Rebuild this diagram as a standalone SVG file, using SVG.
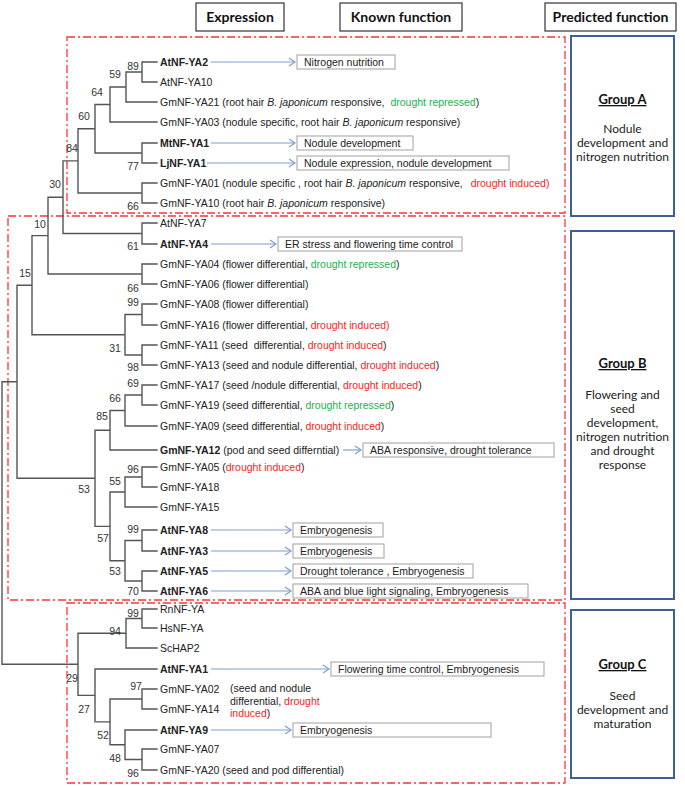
<svg xmlns="http://www.w3.org/2000/svg" width="685" height="786" viewBox="0 0 685 786">
<style>
.t{font-family:"Liberation Sans",Arial,sans-serif;font-size:10.5px;fill:#222}
.b{font-weight:bold}
.it{font-style:italic}
.red{fill:#ff1a1a}
.grn{fill:#22b14c}
.bs{font-family:"Liberation Sans",Arial,sans-serif;font-size:10.5px;fill:#333;text-anchor:middle}
.hdr{fill:#fff;stroke:#333;stroke-width:1.2}
.ht{font-family:Lato,"Liberation Sans",sans-serif;font-size:14px;font-weight:bold;fill:#111;text-anchor:middle}
.grp{fill:#fff;stroke:#3c5f96;stroke-width:2}
.gt{font-family:Lato,"Liberation Sans",sans-serif;font-size:12px;fill:#222;text-anchor:middle}
.gh{font-family:Lato,"Liberation Sans",sans-serif;font-size:13px;font-weight:bold;fill:#111;text-anchor:middle;text-decoration:underline}
.clade{fill:none;stroke:#ff3333;stroke-width:1.3;stroke-dasharray:8,3,2,3}
.fb{fill:#fff;stroke:#a0a0a0;stroke-width:1}
.tree{fill:none;stroke:#555;stroke-width:1.4;stroke-linecap:square}
.arr{fill:none;stroke:#7aa0d4;stroke-width:1.2;marker-end:url(#ah)}
</style>
<defs>
<marker id="ah" markerWidth="9" markerHeight="10" refX="7" refY="5" orient="auto" markerUnits="userSpaceOnUse">
<path d="M1,1 L7,5 L1,9" fill="none" stroke="#7aa0d4" stroke-width="1.2"/>
</marker>
</defs>
<rect width="685" height="786" fill="#fff"/>

<!-- headers -->
<g id="hdr-expression"><rect class="hdr" x="196" y="3" width="88" height="28"/><text class="ht" x="240" y="22">Expression</text></g>
<g id="hdr-known"><rect class="hdr" x="340" y="3" width="122" height="28"/><text class="ht" x="401" y="22">Known function</text></g>
<g id="hdr-predicted"><rect class="hdr" x="545" y="3" width="131" height="28"/><text class="ht" x="610.5" y="22">Predicted function</text></g>

<!-- clade boxes -->
<g id="clade-A"><rect class="clade" x="67" y="37" width="498" height="176"/></g>
<g id="clade-B"><rect class="clade" x="8" y="216" width="557" height="384"/></g>
<g id="clade-C"><rect class="clade" x="67" y="603" width="498" height="180"/></g>

<!-- group boxes -->
<g id="group-A"><rect class="grp" x="571" y="36" width="103" height="180"/>
<text class="gh" x="622.5" y="104">Group A</text>
<text class="gt" x="622.5" y="133">Nodule</text>
<text class="gt" x="622.5" y="147">development and</text>
<text class="gt" x="622.5" y="161">nitrogen nutrition</text></g>
<g id="group-B"><rect class="grp" x="571" y="231" width="103" height="368"/>
<text class="gh" x="622.5" y="368">Group  B</text>
<text class="gt" x="622.5" y="399">Flowering and</text>
<text class="gt" x="622.5" y="413">seed</text>
<text class="gt" x="622.5" y="427">development,</text>
<text class="gt" x="622.5" y="441">nitrogen nutrition</text>
<text class="gt" x="622.5" y="455">and drought</text>
<text class="gt" x="622.5" y="469">response</text></g>
<g id="group-C"><rect class="grp" x="571" y="610" width="103" height="168"/>
<text class="gh" x="622.5" y="669">Group C</text>
<text class="gt" x="622.5" y="700">Seed</text>
<text class="gt" x="622.5" y="714">development and</text>
<text class="gt" x="622.5" y="728">maturation</text></g>

<!-- connectors -->
<g id="connectors">
<path class="tree" d="M142,62V82 M142,62H157 M142,82H157
M126,72V102 M126,72H142 M126,102H157
M110,87V122 M110,87H126 M110,122H157
M142,143V163 M142,143H157 M142,163H157
M95,104.5V153 M95,104.5H110 M95,153H142
M142,183V203 M142,183H157 M142,203H157
M78,128.75V193 M78,128.75H95 M78,193H142
M142,223V244 M142,223H157 M142,244H157
M63,160.9V233.5 M63,160.9H78 M63,233.5H142
M142,264V284 M142,264H157 M142,284H157
M48,197.2V274 M48,197.2H63 M48,274H142
M142,304V325 M142,304H157 M142,325H157
M142,345V365 M142,345H157 M142,365H157
M125,314.5V355 M125,314.5H142 M125,355H142
M32,235.6V334.75 M32,235.6H48 M32,334.75H125
M142,385V405 M142,385H157 M142,405H157
M125,395V426 M125,395H142 M125,426H157
M110,410.5V450 M110,410.5H125 M110,450H157
M142,467V487 M142,467H157 M142,487H157
M125,477V507 M125,477H142 M125,507H157
M142,530V551 M142,530H157 M142,551H157
M142,571V591 M142,571H157 M142,591H157
M125,540.5V581 M125,540.5H142 M125,581H142
M110,492V560.75 M110,492H125 M110,560.75H125
M95,430.25V526.4 M95,430.25H110 M95,526.4H110
M17,285.2V478.3 M17,285.2H32 M17,478.3H95
M142,609V628 M142,609H157 M142,628H157
M126,618.5V648 M126,618.5H142 M126,648H157
M142,689V709 M142,689H157 M142,709H157
M142,749V770 M142,749H157 M142,770H157
M125,730V759.5 M125,730H157 M125,759.5H142
M110,699V744.75 M110,699H142 M110,744.75H125
M95,669V721.9 M95,669H157 M95,721.9H110
M78,633.25V695.4 M78,633.25H126 M78,695.4H95
M2,381.8V664.3 M2,381.8H17 M2,664.3H78"/>
<path class="arr" d="M211,62H295"/>
<path class="arr" d="M211,143H295"/>
<path class="arr" d="M207,163H295"/>
<path class="arr" d="M211,244H276"/>
<path class="arr" d="M343,450H361"/>
<path class="arr" d="M211,530H291"/>
<path class="arr" d="M211,551H291"/>
<path class="arr" d="M211,571H291"/>
<path class="arr" d="M211,591H291"/>
<path class="arr" d="M211,669H329"/>
<path class="arr" d="M211,730H291"/>
</g>

<!-- bootstrap values -->
<g id="bootstrap">
<text class="bs" x="133" y="70">89</text>
<text class="bs" x="115" y="78">59</text>
<text class="bs" x="97" y="96">64</text>
<text class="bs" x="84" y="120">60</text>
<text class="bs" x="72" y="152">84</text>
<text class="bs" x="133" y="170">77</text>
<text class="bs" x="133" y="210">66</text>
<text class="bs" x="55" y="188">30</text>
<text class="bs" x="40" y="228">10</text>
<text class="bs" x="133" y="250">61</text>
<text class="bs" x="25" y="277">15</text>
<text class="bs" x="133" y="292">66</text>
<text class="bs" x="133" y="306">99</text>
<text class="bs" x="115" y="352">31</text>
<text class="bs" x="133" y="371">98</text>
<text class="bs" x="133" y="387">69</text>
<text class="bs" x="115" y="402">66</text>
<text class="bs" x="102" y="420">85</text>
<text class="bs" x="133" y="473">96</text>
<text class="bs" x="115" y="485">55</text>
<text class="bs" x="84" y="493">53</text>
<text class="bs" x="133" y="533">99</text>
<text class="bs" x="103" y="542">57</text>
<text class="bs" x="115" y="575">53</text>
<text class="bs" x="133" y="595">70</text>
<text class="bs" x="133" y="617">99</text>
<text class="bs" x="115" y="635">94</text>
<text class="bs" x="72" y="682">29</text>
<text class="bs" x="136" y="690">97</text>
<text class="bs" x="84" y="713">27</text>
<text class="bs" x="103" y="739">52</text>
<text class="bs" x="115" y="762">48</text>
<text class="bs" x="133" y="777">96</text>
</g>

<!-- leaves -->
<g id="AtNF-YA2"><text class="t b" x="160" y="66">AtNF-YA2</text></g>
<g id="AtNF-YA10"><text class="t" x="160" y="86">AtNF-YA10</text></g>
<g id="GmNF-YA21"><text class="t" x="160" y="106">GmNF-YA21 (root hair <tspan class="it">B. japonicum</tspan> responsive, <tspan class="grn" dx="3">drought repressed</tspan>)</text></g>
<g id="GmNF-YA03"><text class="t" x="160" y="126">GmNF-YA03 (nodule specific, root hair <tspan class="it">B. japonicum</tspan> responsive)</text></g>
<g id="MtNF-YA1"><text class="t b" x="160" y="147">MtNF-YA1</text></g>
<g id="LjNF-YA1"><text class="t b" x="160" y="167">LjNF-YA1</text></g>
<g id="GmNF-YA01"><text class="t" x="160" y="187">GmNF-YA01 (nodule specific , root hair <tspan class="it">B. japonicum</tspan> responsive, <tspan class="red" dx="5">drought induced)</tspan></text></g>
<g id="GmNF-YA10"><text class="t" x="160" y="207">GmNF-YA10 (root hair <tspan class="it">B. japonicum</tspan> responsive)</text></g>
<g id="AtNF-YA7"><text class="t" x="160" y="227">AtNF-YA7</text></g>
<g id="AtNF-YA4"><text class="t b" x="160" y="248">AtNF-YA4</text></g>
<g id="GmNF-YA04"><text class="t" x="160" y="268">GmNF-YA04 (flower differential, <tspan class="grn">drought repressed</tspan>)</text></g>
<g id="GmNF-YA06"><text class="t" x="160" y="288">GmNF-YA06 (flower differential)</text></g>
<g id="GmNF-YA08"><text class="t" x="160" y="308">GmNF-YA08 (flower differential)</text></g>
<g id="GmNF-YA16"><text class="t" x="160" y="329">GmNF-YA16 (flower differential, <tspan class="red">drought induced)</tspan></text></g>
<g id="GmNF-YA11"><text class="t" x="160" y="349">GmNF-YA11 (seed <tspan dx="3">differential,</tspan> <tspan class="red">drought induced</tspan>)</text></g>
<g id="GmNF-YA13"><text class="t" x="160" y="369">GmNF-YA13 (seed and nodule differential, <tspan class="red">drought induced</tspan>)</text></g>
<g id="GmNF-YA17"><text class="t" x="160" y="389">GmNF-YA17 (seed /nodule differential, <tspan class="red">drought induced</tspan>)</text></g>
<g id="GmNF-YA19"><text class="t" x="160" y="409">GmNF-YA19 (seed differential, <tspan class="grn">drought repressed</tspan>)</text></g>
<g id="GmNF-YA09"><text class="t" x="160" y="430">GmNF-YA09 (seed differential, <tspan class="red">drought induced</tspan>)</text></g>
<g id="GmNF-YA12"><text class="t" x="160" y="454"><tspan class="b">GmNF-YA12</tspan> (pod and seed differntial)</text></g>
<g id="GmNF-YA05"><text class="t" x="160" y="471">GmNF-YA05 (<tspan class="red">drought induced</tspan>)</text></g>
<g id="GmNF-YA18"><text class="t" x="160" y="491">GmNF-YA18</text></g>
<g id="GmNF-YA15"><text class="t" x="160" y="511">GmNF-YA15</text></g>
<g id="AtNF-YA8"><text class="t b" x="160" y="534">AtNF-YA8</text></g>
<g id="AtNF-YA3"><text class="t b" x="160" y="555">AtNF-YA3</text></g>
<g id="AtNF-YA5"><text class="t b" x="160" y="575">AtNF-YA5</text></g>
<g id="AtNF-YA6"><text class="t b" x="160" y="595">AtNF-YA6</text></g>
<g id="RnNF-YA"><text class="t" x="160" y="613">RnNF-YA</text></g>
<g id="HsNF-YA"><text class="t" x="160" y="632">HsNF-YA</text></g>
<g id="ScHAP2"><text class="t" x="160" y="652">ScHAP2</text></g>
<g id="AtNF-YA1"><text class="t b" x="160" y="673">AtNF-YA1</text></g>
<g id="GmNF-YA02"><text class="t" x="160" y="693">GmNF-YA02</text></g>
<g id="GmNF-YA14"><text class="t" x="160" y="713">GmNF-YA14</text></g>
<g id="note-YA02-YA14">
<text class="t" x="230" y="692">(seed and nodule</text>
<text class="t" x="230" y="705">differential, <tspan class="red">drought</tspan></text>
<text class="t" x="230" y="717"><tspan class="red">induced</tspan>)</text></g>
<g id="AtNF-YA9"><text class="t b" x="160" y="734">AtNF-YA9</text></g>
<g id="GmNF-YA07"><text class="t" x="160" y="753">GmNF-YA07</text></g>
<g id="GmNF-YA20"><text class="t" x="160" y="774">GmNF-YA20 (seed and pod differential)</text></g>

<!-- function boxes -->
<g id="fn-nitrogen"><rect class="fb" x="297" y="55" width="98" height="14"/><text class="t" x="304" y="66">Nitrogen nutrition</text></g>
<g id="fn-nodule-dev"><rect class="fb" x="297" y="136" width="116" height="14"/><text class="t" x="304" y="147">Nodule development</text></g>
<g id="fn-nodule-exp"><rect class="fb" x="297" y="156" width="212" height="14"/><text class="t" x="304" y="167">Nodule expression, nodule development</text></g>
<g id="fn-er"><rect class="fb" x="278" y="237" width="184" height="14"/><text class="t" x="285" y="248">ER stress and flowering time control</text></g>
<g id="fn-aba"><rect class="fb" x="363" y="443" width="191" height="14"/><text class="t" x="370" y="454">ABA responsive, drought tolerance</text></g>
<g id="fn-emb-8"><rect class="fb" x="293" y="523" width="90" height="14"/><text class="t" x="300" y="534">Embryogenesis</text></g>
<g id="fn-emb-3"><rect class="fb" x="293" y="544" width="91" height="14"/><text class="t" x="300" y="555">Embryogenesis</text></g>
<g id="fn-drought"><rect class="fb" x="293" y="564" width="180" height="14"/><text class="t" x="300" y="575">Drought tolerance , Embryogenesis</text></g>
<g id="fn-blue"><rect class="fb" x="293" y="584" width="235" height="14"/><text class="t" x="300" y="595">ABA and blue light signaling, Embryogenesis</text></g>
<g id="fn-flowering"><rect class="fb" x="331" y="662" width="213" height="14"/><text class="t" x="338" y="673">Flowering time control, Embryogenesis</text></g>
<g id="fn-emb-9"><rect class="fb" x="293" y="723" width="198" height="14"/><text class="t" x="300" y="734">Embryogenesis</text></g>
</svg>
